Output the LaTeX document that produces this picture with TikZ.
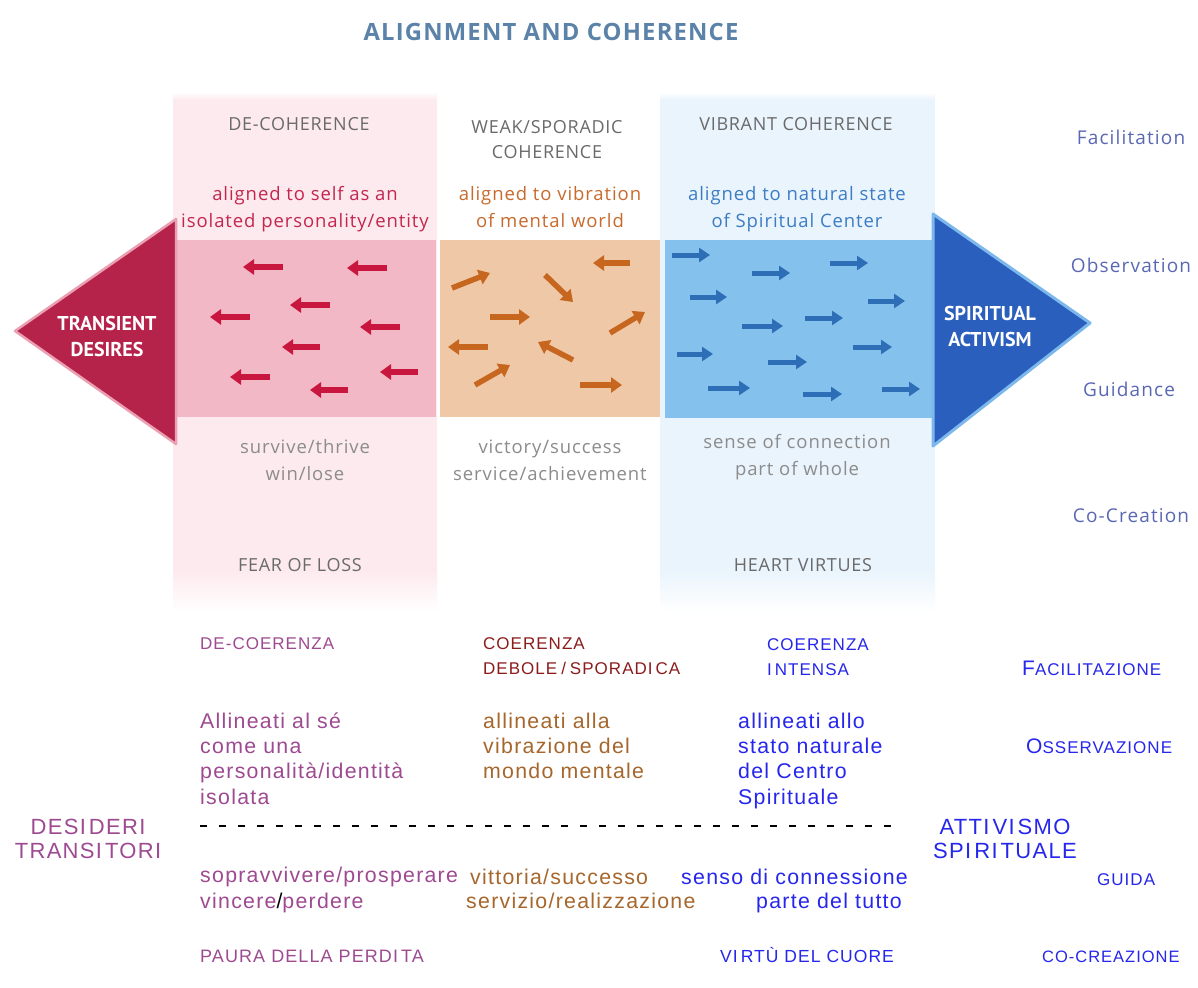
\documentclass[tikz,border=0pt]{standalone}
\usepackage{fontspec}
\setmainfont{Liberation Sans}
\newfontfamily\itfont[LetterSpace=6]{Liberation Sans}
\newfontfamily\topfont[LetterSpace=5]{Open Sans}
\newfontfamily\hdrfont[LetterSpace=4]{Open Sans}
\newfontfamily\sidefont[LetterSpace=6]{Open Sans}
\newfontfamily\boldfont{PT Sans}
\usetikzlibrary{arrows.meta}
\definecolor{titleblue}{HTML}{5B82A8}
\definecolor{hdrgray}{HTML}{6A6A6A}
\definecolor{lowgray}{HTML}{8C8C8C}
\definecolor{redtxt}{HTML}{C4264E}
\definecolor{orgtxt}{HTML}{C86A2C}
\definecolor{bluetxt}{HTML}{3C7CC4}
\definecolor{sidetxt}{HTML}{5A68B4}
\definecolor{pinkbg}{HTML}{FDEAEE}
\definecolor{bluebg}{HTML}{EAF4FC}
\definecolor{pinkbox}{HTML}{F3B8C5}
\definecolor{tanbox}{HTML}{EFC8A8}
\definecolor{bluebox}{HTML}{84C1EC}
\definecolor{crimson}{HTML}{B5224A}
\definecolor{crimrim}{HTML}{EAA0B2}
\definecolor{darkblue}{HTML}{2A5FBE}
\definecolor{rimblue}{HTML}{7DB8EC}
\definecolor{redarrow}{HTML}{C8163F}
\definecolor{orgarrow}{HTML}{C7661E}
\definecolor{bluearrow}{HTML}{2E6EB6}
\definecolor{itpurple}{HTML}{9E4A91}
\definecolor{itred}{HTML}{8C1C1C}
\definecolor{itbrown}{HTML}{A6662C}
\definecolor{itblue}{HTML}{2626EC}
\newcommand\Ig{\kern3pt}
\tikzset{
  toplbl/.style={inner sep=0, font=\topfont\fontsize{18.5}{27}\selectfont, align=center, anchor=base},
  hdrlbl/.style={toplbl, text=hdrgray, font=\hdrfont\fontsize{18}{25}\selectfont},
  redlbl/.style={toplbl, text=redtxt},
  orglbl/.style={toplbl, text=orgtxt},
  bluelbl/.style={toplbl, text=bluetxt},
  graylbl/.style={toplbl, text=lowgray},
  sidelbl/.style={toplbl, text=sidetxt, font=\sidefont\fontsize{19}{25}\selectfont},
  headlbl/.style={inner sep=0, text=white, align=center, anchor=base, font=\boldfont\bfseries\fontsize{20}{26}\selectfont},
  itlbl/.style={inner sep=0, font=\itfont\fontsize{21.3}{25.3}\selectfont, align=left, anchor=base west},
  caplbl/.style={inner sep=0, font=\itfont\fontsize{17}{25}\selectfont, align=left, anchor=base west},
  biglbl/.style={inner sep=0, font=\itfont\fontsize{22}{24}\selectfont, align=center, anchor=base},
  redarr/.style={draw=redarrow, line width=5.5pt, -{Triangle[length=11pt,width=15pt]}},
  orgarr/.style={draw=orgarrow, line width=5.5pt, -{Triangle[length=11pt,width=15pt]}},
  bluearr/.style={draw=bluearrow, line width=5pt, -{Triangle[length=11pt,width=14pt]}},
  dashline/.style={draw=black, line width=1.2pt, dash pattern=on 7pt off 12pt}
}
\begin{document}
\begin{tikzpicture}[x=1pt,y=-1pt]
\useasboundingbox (0,0) rectangle (1198,987);
\fill[white] (0,0) rectangle (1198,987);
% light background panels
\fill[pinkbg] (173,100) rectangle (437,570);
\shade[top color=pinkbg, bottom color=white] (173,570) rectangle (437,612);
\shade[top color=white, bottom color=pinkbg] (173,92) rectangle (437,100);
\fill[bluebg] (660,100) rectangle (935,570);
\shade[top color=bluebg, bottom color=white] (660,570) rectangle (935,612);
\shade[top color=white, bottom color=bluebg] (660,92) rectangle (935,100);
% coloured boxes
\fill[pinkbox] (175,240) rectangle (436,417);
\fill[tanbox] (440,240) rectangle (660,417);
\fill[bluebox] (665,240) rectangle (934,418);
% arrow heads
\fill[crimson, draw=crimrim, line width=2.5pt, line join=round] (15,331) -- (176,219) -- (176,444) -- cycle;
\fill[darkblue, draw=rimblue, line width=3pt, line join=round] (933,214) -- (1090,323) -- (933,446) -- cycle;
\node[headlbl] (transient) at (107,356) {TRANSIENT\\DESIRES};
\node[headlbl] (spiract) at (990,346) {SPIRITUAL\\ACTIVISM};
% red arrows
\draw[redarr] (283,267) -- (243,267);
\draw[redarr] (387,268) -- (347,268);
\draw[redarr] (330,305) -- (290,305);
\draw[redarr] (250,317) -- (210,317);
\draw[redarr] (400,327) -- (360,327);
\draw[redarr] (320,347) -- (282,347);
\draw[redarr] (270,377) -- (230,377);
\draw[redarr] (348,390) -- (310,390);
\draw[redarr] (418,372) -- (380,372);
% orange arrows
\draw[orgarr] (452,288) -- (490,273);
\draw[orgarr] (545,275) -- (573,302);
\draw[orgarr] (630,263) -- (593,263);
\draw[orgarr] (490,317) -- (530,317);
\draw[orgarr] (610,333) -- (645,312);
\draw[orgarr] (488,347) -- (448,347);
\draw[orgarr] (573,360) -- (538,342);
\draw[orgarr] (475,385) -- (510,365);
\draw[orgarr] (580,385) -- (622,385);
% blue arrows
\draw[bluearr] (672,255) -- (710,255);
\draw[bluearr] (752,273) -- (790,273);
\draw[bluearr] (830,263) -- (868,263);
\draw[bluearr] (690,297) -- (727,297);
\draw[bluearr] (868,301) -- (905,301);
\draw[bluearr] (742,326) -- (783,326);
\draw[bluearr] (805,318) -- (843,318);
\draw[bluearr] (677,354) -- (713,354);
\draw[bluearr] (853,347) -- (892,347);
\draw[bluearr] (768,362) -- (807,362);
\draw[bluearr] (708,388) -- (750,388);
\draw[bluearr] (803,394) -- (842,394);
\draw[bluearr] (882,389) -- (920,389);
% top texts
\node[inner sep=0, anchor=base, text=titleblue, font=\topfont\bfseries\fontsize{23.8}{24}\selectfont] (title) at (551,41) {ALIGNMENT AND COHERENCE};
\node[hdrlbl] (decoh) at (299,131) {DE-COHERENCE};
\node[hdrlbl] (weak) at (547,159) {WEAK/SPORADIC\\COHERENCE};
\node[hdrlbl] (vibrant) at (796,131) {VIBRANT COHERENCE};
\node[redlbl] (alself) at (305,227) {aligned to self as an\\isolated personality/entity};
\node[orglbl] (alvib) at (550,227) {aligned to vibration\\of mental world};
\node[bluelbl] (alnat) at (797,227) {aligned to natural state\\of Spiritual Center};
\node[graylbl] (surviveE) at (305,480) {survive/thrive\\win/lose};
\node[graylbl] (victoryE) at (550,480) {victory/success\\service/achievement};
\node[graylbl] (senseE) at (797,475) {sense of connection\\part of whole};
\node[hdrlbl] (fear) at (300,571) {FEAR OF LOSS};
\node[hdrlbl] (heart) at (803,571) {HEART VIRTUES};
\node[sidelbl] (facil) at (1131,145) {Facilitation};
\node[sidelbl] (obs) at (1131,272) {Observation};
\node[sidelbl] (guid) at (1129,396) {Guidance};
\node[sidelbl] (cocr) at (1131,522) {Co-Creation};
% bottom (Italian) texts
\node[caplbl, text=itpurple] (decoer) at (200,649) {DE-COERENZA};
\node[caplbl, text=itred] (coerdeb) at (483,674) {COERENZA\\DEBOLE\kern4pt/\kern4pt SPORADI\Ig CA};
\node[caplbl, text=itblue] (coerint) at (767,675) {COERENZA\\I\Ig NTENSA};
\node[caplbl, text=itblue] (facilit) at (1022,675) {{\fontsize{21}{21}\selectfont F}ACILITAZIONE};
\node[itlbl, text=itpurple] (allin1) at (200,804) {Allineati al sé\\come una\\personalità/identità\\isolata};
\node[itlbl, text=itbrown] (allin2) at (483,778.6) {allineati alla\\vibrazione del\\mondo mentale};
\node[itlbl, text=itblue] (allin3) at (738,804) {allineati allo\\stato naturale\\del Centro\\Spirituale};
\node[caplbl, text=itblue] (osserv) at (1026,753) {{\fontsize{21}{21}\selectfont O}SSERVAZIONE};
\node[biglbl, text=itpurple] (desid) at (88,858) {DESI\Ig DERI\\TRANSI\Ig TORI};
\node[biglbl, text=itblue] (attiv) at (1005,858) {ATTI\Ig VI\Ig SMO\\SPI\Ig RI\Ig TUALE};
\coordinate (dashL) at (200,826);
\coordinate (dashR) at (895,826);
\draw[dashline] (dashL) -- (dashR);
\node[itlbl, text=itpurple] (sopr) at (200,908) {sopravvivere/prosperare\\vincere{\color{black}/}perdere};
\node[itlbl, text=itbrown] (vitt) at (470,884) {vittoria/successo};
\node[itlbl, text=itbrown] (serv) at (466,908) {servizio/realizzazione};
\node[itlbl, text=itblue] (senso) at (681,884) {senso di connessione};
\node[itlbl, text=itblue] (parte) at (756,908) {parte del tutto};
\node[caplbl, text=itblue] (guida) at (1097,885) {GUIDA};
\node[caplbl, text=itpurple, font=\itfont\fontsize{18}{25}\selectfont] (paura) at (200,962) {PAURA DELLA PERDI\Ig TA};
\node[caplbl, text=itblue, font=\itfont\fontsize{17.5}{25}\selectfont] (virtu) at (720,962) {VI\Ig RTÙ DEL CUORE};
\node[caplbl, text=itblue, font=\itfont\fontsize{16.5}{25}\selectfont] (cocrea) at (1042,962) {CO-CREAZIONE};
\end{tikzpicture}
\end{document}
